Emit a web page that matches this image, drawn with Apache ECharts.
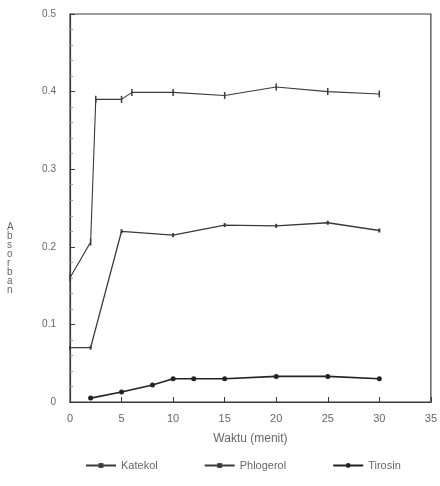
<!DOCTYPE html>
<html>
<head>
<meta charset="utf-8">
<script src="https://cdn.jsdelivr.net/npm/echarts@6/dist/echarts.min.js"></script>
<style>
  html, body { margin: 0; padding: 0; background: #fff; }
  #chart { width: 440px; height: 486px; }
</style>
</head>
<body>
<div id="chart"></div>
<script>
// data (waktu in menit, absorban)
var timeKatekol = [0, 2, 5, 10, 15, 20, 25, 30];
var katekol = [0.07, 0.07, 0.22, 0.215, 0.228, 0.227, 0.231, 0.221];

var timePhlogerol = [0, 2, 2.5, 5, 6, 10, 15, 20, 25, 30];
var phlogerol = [0.16, 0.206, 0.39, 0.39, 0.399, 0.399, 0.395, 0.406, 0.4, 0.397];

var timeTirosin = [2, 5, 8, 10, 12, 15, 20, 25, 30];
var tirosin = [0.005, 0.013, 0.022, 0.03, 0.03, 0.03, 0.033, 0.033, 0.03];

var xTicks = [0, 5, 10, 15, 20, 25, 30, 35];
var yTicks = [0, 0.1, 0.2, 0.3, 0.4, 0.5];

function pairs(xs, ys) {
    return xs.map(function (x, i) { return [x, ys[i]]; });
}

var ink = '#3a3a3a';
var textCol = '#666';
var font = 'Liberation Sans, Arial, sans-serif';

var myChart = echarts.init(document.getElementById('chart'));

var option = {
    backgroundColor: '#fff',
    animation: false,
    textStyle: { fontFamily: font },
    grid: {
        left: 70, right: 8, top: 14, bottom: 84,
        show: true, borderColor: ink, borderWidth: 1.2
    },
    xAxis: {
        type: 'value',
        min: xTicks[0],
        max: xTicks[xTicks.length - 1],
        interval: 5,
        name: 'Waktu (menit)',
        nameLocation: 'middle',
        nameGap: 31,
        nameTextStyle: { color: textCol, fontSize: 12 },
        axisLine: { lineStyle: { color: ink, width: 1.2 } },
        axisTick: { inside: true, length: 5, lineStyle: { color: ink } },
        axisLabel: { color: textCol, fontSize: 11, margin: 11 },
        splitLine: { show: false }
    },
    yAxis: {
        type: 'value',
        min: yTicks[0],
        max: yTicks[yTicks.length - 1],
        interval: 0.1,
        axisLine: { lineStyle: { color: ink, width: 1.2 } },
        axisTick: { inside: true, length: 5, lineStyle: { color: ink } },
        minorTick: { show: true, splitNumber: 5, length: 3, lineStyle: { color: '#999' } },
        axisLabel: {
            color: textCol, fontSize: 10, margin: 14,
            formatter: function (v) { return v === 0 ? '0' : v.toFixed(1); }
        },
        splitLine: { show: false }
    },
    legend: {
        bottom: 10,
        left: 80,
        itemWidth: 30,
        itemHeight: 6,
        itemGap: 46,
        textStyle: { color: textCol, fontSize: 11 },
        data: ['Katekol', 'Phlogerol', 'Tirosin']
    },
    graphic: [{
        type: 'text',
        left: 7,
        top: 222,
        style: {
            text: 'A\nb\ns\no\nr\nb\na\nn',
            fill: textCol,
            font: '10px ' + font,
            lineHeight: 9,
            align: 'center'
        }
    }],
    series: [
        {
            name: 'Katekol',
            type: 'line',
            data: pairs(timeKatekol, katekol),
            symbol: 'rect',
            symbolSize: [2, 4],
            itemStyle: { color: ink },
            lineStyle: { color: ink, width: 1.3 }
        },
        {
            name: 'Phlogerol',
            type: 'line',
            data: pairs(timePhlogerol, phlogerol),
            symbol: 'rect',
            symbolSize: [1.5, 7],
            itemStyle: { color: ink },
            lineStyle: { color: ink, width: 1.1 }
        },
        {
            name: 'Tirosin',
            type: 'line',
            data: pairs(timeTirosin, tirosin),
            symbol: 'circle',
            symbolSize: 5,
            itemStyle: { color: '#222' },
            lineStyle: { color: '#222', width: 1.6 }
        }
    ]
};

myChart.setOption(option);
</script>
</body>
</html>
